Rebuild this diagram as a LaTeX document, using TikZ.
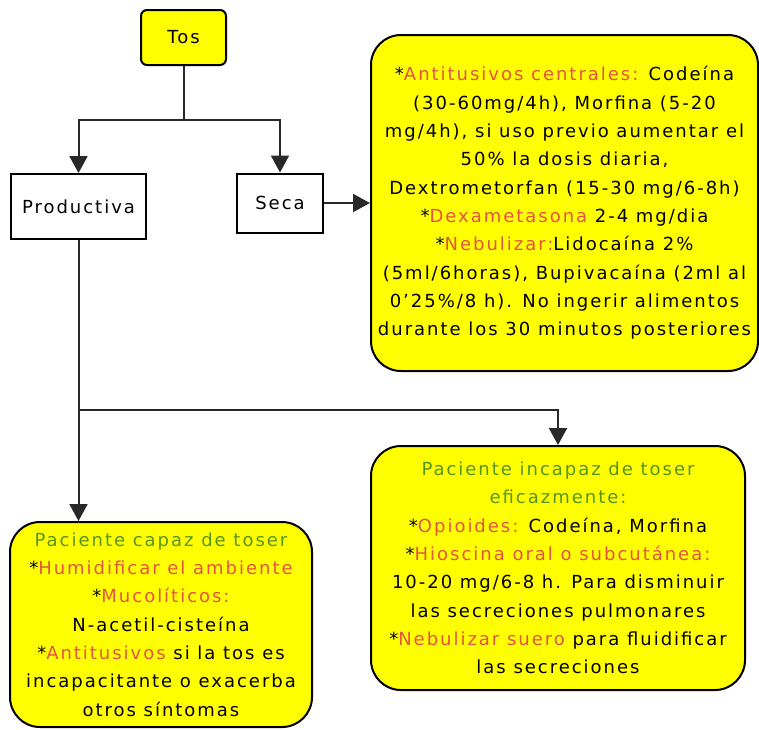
\documentclass[tikz,border=0pt]{standalone}
\usepackage{fontspec}
\usetikzlibrary{arrows.meta}
\newfontfamily\pixfont[LetterSpace=11]{DejaVu Sans}
\definecolor{boxyellow}{RGB}{255,255,0}
\definecolor{lblred}{RGB}{228,84,64}
\definecolor{lblgreen}{RGB}{84,150,24}
\definecolor{linegray}{RGB}{40,40,40}
\newcommand\redw[1]{\textcolor{lblred}{#1}}
\newcommand\grnw[1]{\textcolor{lblgreen}{#1}}
\tikzset{
  txt/.style={font=\pixfont\fontsize{18}{28.3}\selectfont, align=center, inner sep=0pt},
  plainbox/.style={txt, draw=black, line width=2pt, fill=white},
  yellowbox/.style={txt, draw=black, line width=2pt, fill=boxyellow, rounded corners=30pt},
  conn/.style={draw=linegray, line width=2pt, -{Triangle[width=18pt,length=17pt]}},
  link/.style={draw=linegray, line width=2pt}
}
\begin{document}
\begin{tikzpicture}[x=1pt,y=1pt]
\useasboundingbox (0,0) rectangle (759,-729);
\node[txt, draw=black, line width=2pt, fill=boxyellow, rounded corners=6pt,
      minimum width=85pt, minimum height=55pt] (tos) at (183.5,-37.5) {Tos};
\node[plainbox, minimum width=135pt, minimum height=65pt] (prod) at (78.5,-206.5) {Productiva};
\node[plainbox, minimum width=86pt, minimum height=59pt] (seca) at (280,-203) {Seca};
\node[yellowbox, minimum width=387pt, minimum height=336pt] (big) at (564.5,-203) {%
*\redw{Antitusivos centrales:} Codeína\\
(30-60mg/4h), Morfina (5-20\\
mg/4h), si uso previo aumentar el\\
50\% la dosis diaria,\\
Dextrometorfan (15-30 mg/6-8h)\\
*\redw{Dexametasona} 2-4 mg/dia\\
*\redw{Nebulizar:}Lidocaína 2\%\\
(5ml/6horas), Bupivacaína (2ml al\\
0’25\%/8 h). No ingerir alimentos\\
durante los 30 minutos posteriores};
\node[yellowbox, minimum width=374pt, minimum height=244pt] (incap) at (558,-568) {%
\grnw{Paciente incapaz de toser}\\
\grnw{eficazmente:}\\
*\redw{Opioides:} Codeína, Morfina\\
*\redw{Hioscina oral o subcutánea:}\\
10-20 mg/6-8 h. Para disminuir\\
las secreciones pulmonares\\
*\redw{Nebulizar suero} para fluidificar\\
las secreciones};
\node[yellowbox, minimum width=302pt, minimum height=205pt] (capaz) at (161,-624.5) {%
\grnw{Paciente capaz de toser}\\
*\redw{Humidificar el ambiente}\\
*\redw{Mucolíticos:}\\
N-acetil-cisteína\\
*\redw{Antitusivos} si la tos es\\
incapacitante o exacerba\\
otros síntomas};
\coordinate (split) at (tos.south |- 0,-120);
\coordinate (join) at (prod.south |- 0,-410);
\draw[link] (tos.south) -- (split);
\draw[conn] (split) -| (prod.north);
\draw[conn] (split) -| (seca.north);
\draw[conn] (seca.east) -- (big.west);
\draw[conn] (prod.south) -- (prod.south |- capaz.north);
\draw[conn] (join) -| (incap.north);
\end{tikzpicture}
\end{document}
